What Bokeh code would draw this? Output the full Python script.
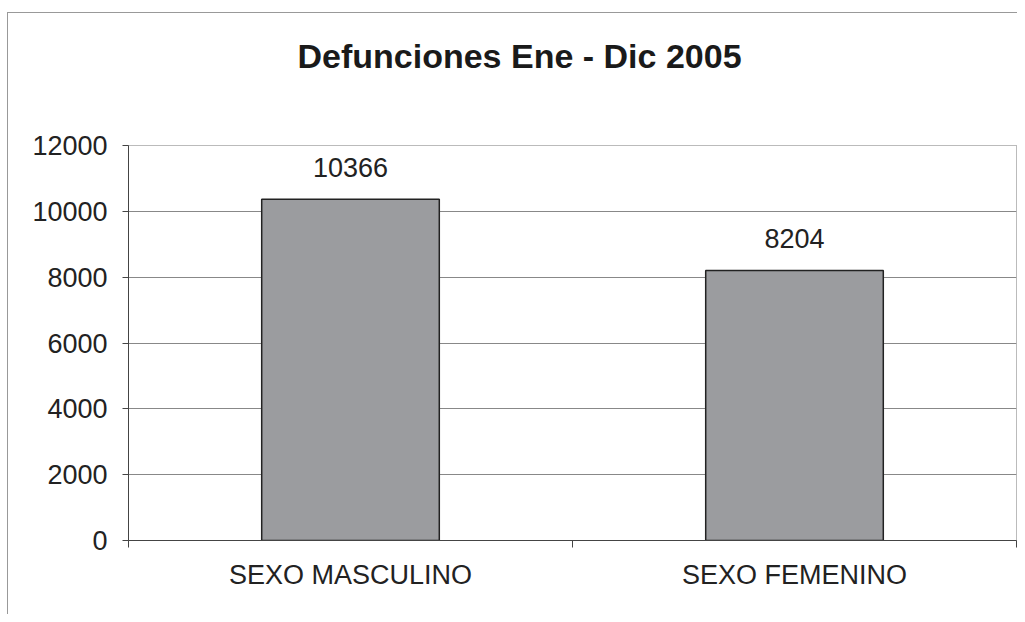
from bokeh.plotting import figure
from bokeh.models import Range1d, LinearAxis, FixedTicker, ColumnDataSource, LabelSet
from bokeh.core.properties import value
from bokeh.embed import file_html
from bokeh.resources import INLINE

# ---- data ----
categories = ["SEXO MASCULINO", "SEXO FEMENINO"]
values = [10366, 8204]
y_ticks = [0, 2000, 4000, 6000, 8000, 10000, 12000]
title_text = "Defunciones Ene - Dic  2005"

FONT = "Liberation Sans"

xs = [i + 0.5 for i in range(len(categories))]
bounds = [float(i) for i in range(len(categories) + 1)]
src = ColumnDataSource(dict(x=xs, top=values, label=[str(v) for v in values]))

p = figure(width=1017, height=614,
           x_range=Range1d(0, len(categories)), y_range=Range1d(0, 12000),
           output_backend="svg", toolbar_location=None, title=title_text,
           x_axis_location=None,
           min_border_left=128, min_border_right=1, min_border_top=145, min_border_bottom=74)

p.background_fill_color = "white"
p.border_fill_color = None
p.outline_line_color = "#777777"
p.outline_line_dash = "1 1"
p.styles = {
    "background": "linear-gradient(#999999,#999999) 7px 12px / 1px 100% no-repeat, "
                  "linear-gradient(#999999,#999999) 7px 12px / 100% 1px no-repeat, white"
}

# invisible spacer between frame and title
spacer = LinearAxis(ticker=FixedTicker(ticks=bounds),
                    major_label_overrides={b: "" for b in bounds},
                    major_label_text_font_size="10px",
                    major_tick_out=71, major_tick_in=0,
                    minor_tick_out=0, minor_tick_in=0, major_label_standoff=0,
                    axis_line_color=None, major_tick_line_color=None,
                    minor_tick_line_color=None)
p.add_layout(spacer, "above")

# title
p.title.text_font = FONT
p.title.text_font_size = "34px"
p.title.text_font_style = "bold"
p.title.text_color = "#1a1a1a"
p.title.align = "left"
p.title.offset = 169
p.title.standoff = 0

# y axis
yax = p.yaxis[0]
yax.ticker = FixedTicker(ticks=y_ticks)
yax.major_label_text_font = FONT
yax.major_label_text_font_size = "27px"
yax.major_label_text_color = "#222222"
yax.major_tick_out = 6
yax.major_tick_in = 0
yax.minor_tick_line_color = None
yax.axis_line_color = "#444444"
yax.major_tick_line_color = "#444444"
yax.major_label_standoff = 15

p.ygrid.ticker = FixedTicker(ticks=y_ticks)
p.ygrid.grid_line_color = "#888888"
p.ygrid.grid_line_width = 1
p.xgrid.visible = False

# x axis: boundary ticks
ax1 = LinearAxis(ticker=FixedTicker(ticks=bounds),
                 major_label_overrides={b: "" for b in bounds},
                 major_label_text_font_size="10px",
                 major_label_standoff=0,
                 major_tick_out=7, major_tick_in=0,
                 minor_tick_line_color=None,
                 axis_line_color="#444444", major_tick_line_color="#444444")
p.add_layout(ax1, "below")

# x axis: category labels
ax2 = LinearAxis(ticker=FixedTicker(ticks=xs),
                 major_label_overrides={x: c for x, c in zip(xs, categories)},
                 major_label_text_font=FONT,
                 major_label_text_font_size="27px",
                 major_label_text_color="#222222",
                 major_label_standoff=6,
                 axis_line_color=None, major_tick_line_color=None,
                 minor_tick_line_color=None)
p.add_layout(ax2, "below")

p.vbar(x="x", top="top", width=0.4, source=src,
       fill_color="#9b9c9f", line_color="#222222", line_width=1.5)

labels = LabelSet(x="x", y="top", text="label", source=src,
                  text_align="center", text_baseline="alphabetic", y_offset=22,
                  text_font=value(FONT), text_font_size="27px", text_color="#222222")
p.add_layout(labels)

open("out.html", "w").write(file_html(p, INLINE))
